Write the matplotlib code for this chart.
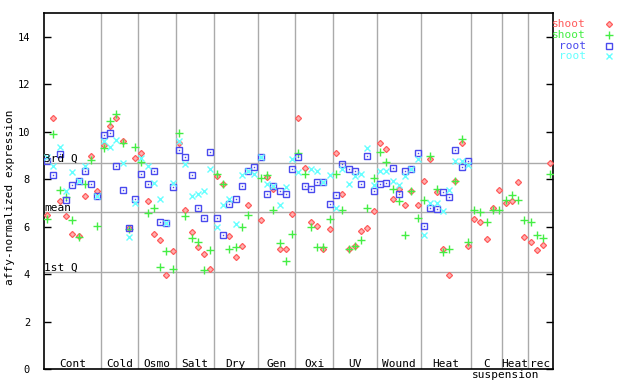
import numpy as np
import matplotlib
matplotlib.use("Agg")
import matplotlib.pyplot as plt
from matplotlib.lines import Line2D

nan = np.nan

# group names and number of samples per group
groups = ["Cont", "Cold", "Osmo", "Salt", "Dry", "Gen", "Oxi", "UV", "Wound", "Heat", "C", "Heat", "rec"]
group_sizes = [9, 6, 6, 6, 7, 6, 6, 7, 7, 8, 5, 4, 4]

# shoot replicate 1 (red diamonds)
shoot1 = [6.49, 10.6, 7.1, 6.45, 5.69, 5.6, 7.29, 9.0, 7.5,
          9.44, 10.24, 10.6, 9.61, 5.93, 8.88,
          9.12, 7.07, 5.69, 5.42, 3.95, 4.96,
          9.55, 6.7, 5.76, 5.13, 4.83, 4.2,
          8.13, 7.8, 5.6, 4.71, 5.17, 6.91, nan,
          6.27, 8.08, 7.57, 5.08, 5.08, 6.52,
          10.6, 8.46, 6.22, 6.05, 5.04, 5.89,
          9.09, 7.36, 5.08, 5.17, 5.84, 5.93, 6.65,
          9.51, 9.26, 7.15, 7.57, 6.9, 7.49, 6.9,
          7.92, 8.84, 7.47, 5.08, 3.95, 7.94, 9.55, 5.17,
          6.31, 6.18, 5.47, 6.77, 7.54,
          7.02, 7.07, 7.87, 5.55,
          5.34, 5.0, 5.25, 8.67]
# shoot replicate 2 (green plus)
shoot2 = [6.33, 9.89, 7.54, 7.25, 6.27, 5.55, 7.8, 8.8, 6.03,
          9.34, 10.45, 10.75, 9.51, 5.9, 9.36,
          8.71, 6.56, 6.81, 4.29, 4.96, 4.2,
          9.97, 6.45, 5.51, 5.34, 4.17, 5.0,
          8.24, 7.8, 5.08, 5.13, 5.97, 6.48, nan,
          8.04, 8.2, 6.69, 5.3, 4.54, 5.68,
          9.09, 8.22, 5.97, 5.13, 5.13, 6.31,
          8.24, 6.69, 5.08, 5.17, 5.42, 6.77, 8.04,
          9.13, 8.75, 7.61, 7.07, 5.63, 7.49, 6.35,
          7.11, 8.98, 7.61, 4.92, 5.08, 7.94, 9.69, 5.34,
          6.69, 6.6, 6.22, 6.69, 6.69,
          7.11, 7.32, 7.11, 6.27,
          6.18, 5.63, 5.51, 8.22]
# root replicate 1 (blue squares)
root1 = [8.78, 8.2, 9.05, 7.12, 7.75, 7.94, 8.37, 7.8, 7.3,
         9.85, 9.97, 8.58, 7.53, 5.93, 7.19,
         8.24, 7.8, 8.37, 6.22, 6.17, 7.66,
         9.23, 8.92, 8.16, 6.77, 6.35, 9.17,
         6.35, 5.65, 6.94, 7.16, 7.72, 8.37, 8.5,
         8.95, 7.4, 7.72, 7.52, 7.36, 8.42,
         8.95, 7.72, 7.58, 7.87, 7.87, 6.94,
         7.32, 8.64, 8.42, 8.37, 7.82, 9.0, 7.49,
         7.82, 7.86, 8.46, 7.36, 8.37, 8.43, 9.09,
         6.01, 6.77, 6.73, 7.45, 7.24, 9.22, 8.51, 8.78,
         nan, nan, nan, nan, nan,
         nan, nan, nan, nan,
         nan, nan, nan, nan]
# root replicate 2 (cyan x)
root2 = [8.95, 8.55, 9.37, 7.5, 8.31, 7.94, 8.55, nan, 7.3,
         9.61, 9.37, 9.65, 8.67, 5.55, 7.01,
         8.88, 8.55, 7.86, 7.19, 6.17, 7.84,
         9.61, 8.64, 7.29, 7.37, 7.5, 8.42,
         6.0, 6.91, 7.19, 6.11, 8.2, 8.37, 8.24,
         8.95, 7.8, 7.72, 6.9, 7.66, 8.84,
         8.29, nan, 8.42, 8.35, 7.87, 8.2,
         6.81, 8.42, 7.82, 8.15, 8.24, 9.31, 7.75,
         8.33, 8.37, 7.94, 7.75, 8.13, 8.43, 8.86,
         5.63, 6.98, 7.02, 6.65, 7.55, 8.78, 8.78, 8.6,
         nan, nan, nan, nan, nan,
         nan, nan, nan, nan,
         nan, nan, nan, nan]

q3_value = 8.68
mean_value = 6.62
q1_value = 4.09

red = "#ff5c5c"
green = "#44ee44"
blue = "#4a4aee"
cyan = "#66ffff"
grey = "#aaaaaa"
mono = "DejaVu Sans Mono"

fig = plt.figure(figsize=(6.4, 3.84), dpi=100)
ax = fig.add_axes([44 / 640, 1 - 369 / 384, (552.7 - 44) / 640, (369 - 13.3) / 384])

n = len(shoot1)
x = np.arange(n) + 0.5

# separators and summary lines
bounds = np.cumsum(group_sizes)
for b in bounds[:-1]:
    ax.axvline(b, color=grey, lw=1, zorder=1)
for v in [q3_value, mean_value, q1_value]:
    ax.axhline(v, color=grey, lw=1, zorder=1)

red_mk = dict(marker="D", ms=3.1, mfc="#ffb0b0", mec=red, mew=0.9)
green_mk = dict(marker="+", ms=5.5, mec=green, mew=1)
blue_mk = dict(marker="s", ms=4.4, mfc="none", mec=blue, mew=1)
cyan_mk = dict(marker="x", ms=4.2, mec=cyan, mew=1)

ax.plot(x, shoot1, ls="none", zorder=3, **red_mk)
ax.plot(x, shoot2, ls="none", zorder=3, **green_mk)
ax.plot(x, root1, ls="none", zorder=3, **blue_mk)
ax.plot(x, root1, ls="none", marker="s", ms=1, mfc=blue, mec=blue, mew=0, zorder=3)
ax.plot(x, root2, ls="none", zorder=3, **cyan_mk)

# stat labels
for v, lab in [(q3_value, "3rd Q"), (mean_value, "mean"), (q1_value, "1st Q")]:
    ax.text(0.05, v + 0.06, lab, fontsize=8, family=mono, va="baseline", ha="left", zorder=4)

# group labels inside the plot
starts = np.concatenate([[0], bounds[:-1]])
for s, w, name in zip(starts, group_sizes, groups):
    ax.text(s + w / 2, 0.08, name, fontsize=8, family=mono, ha="center", va="baseline")
ax.text(68.2, -0.36, "suspension", fontsize=8, family=mono, ha="left", va="baseline", clip_on=False)

ax.set_xlim(0, n)
ax.set_ylim(0, 15)
ax.set_xticks([])
ax.set_yticks(range(0, 15, 2))
ax.tick_params(axis="y", direction="in", length=5, width=1, right=True, labelsize=7.5, pad=10)
for lab in ax.get_yticklabels():
    lab.set_family(mono)
for sp in ax.spines.values():
    sp.set_linewidth(1.2)

fig.text(10 / 640, 1 - 197 / 384, "affy-normalized expression", fontsize=8, family=mono,
         rotation=90, ha="center", va="center")

# legend outside on the right
leg = [("shoot", red, red_mk), ("shoot", green, green_mk),
       ("root", blue, blue_mk), ("root", cyan, cyan_mk)]
for i, (lab, col, mk) in enumerate(leg):
    yy = 1 - (24 + i * 10.8) / 384
    fig.text(586 / 640, yy, lab, color=col, fontsize=8, family=mono, ha="right", va="center")
    fig.add_artist(Line2D([609 / 640], [yy], transform=fig.transFigure, ls="none", **mk))

fig.savefig("out.png", dpi=100)
